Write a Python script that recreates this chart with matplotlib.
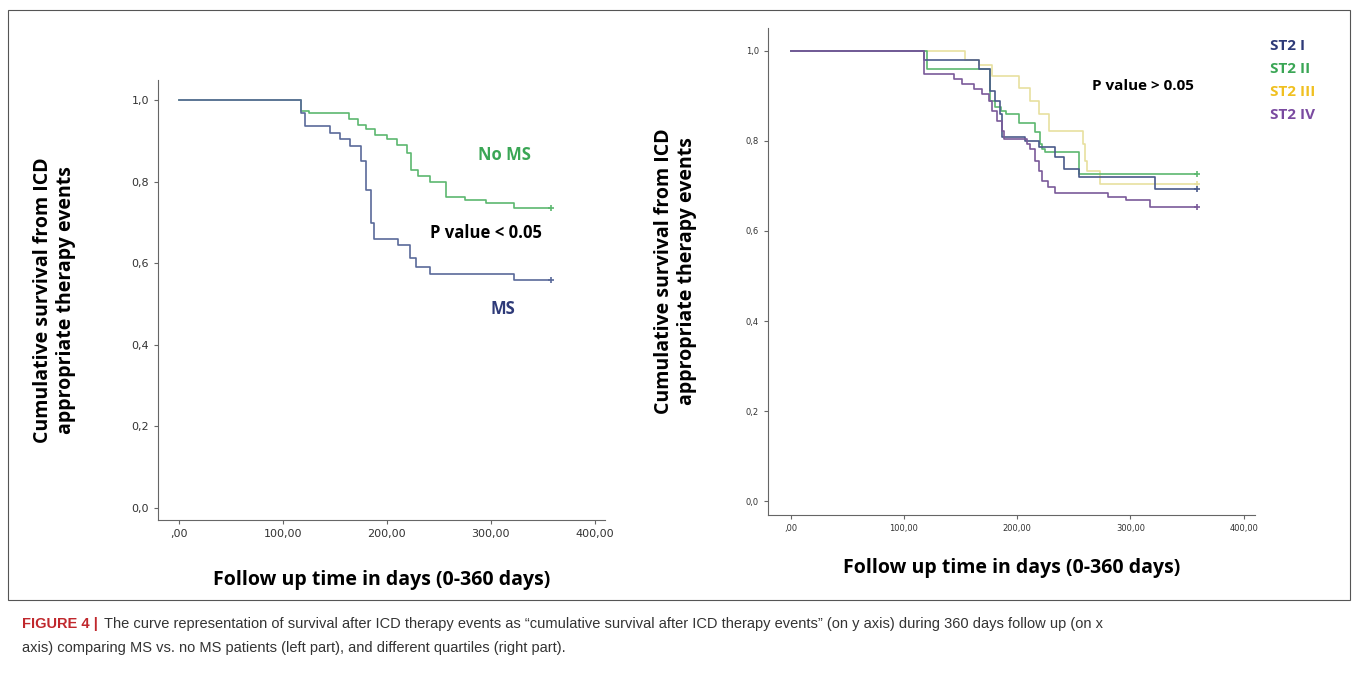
import numpy as np
import matplotlib.pyplot as plt
from matplotlib.patches import Rectangle

# left panel: MS vs no MS (time in days, survival)
nms_t = [0, 118, 125, 164, 172, 180, 189, 200, 210, 220, 223, 230, 242, 257, 275, 296, 322, 358]
nms_s = [1.0, 0.975, 0.97, 0.955, 0.94, 0.93, 0.916, 0.905, 0.89, 0.87, 0.83, 0.815, 0.80, 0.764, 0.755, 0.747, 0.737, 0.737]
ms_t = [0, 118, 121, 145, 155, 165, 175, 180, 185, 188, 211, 222, 228, 242, 322, 358]
ms_s = [1.0, 0.97, 0.936, 0.919, 0.904, 0.887, 0.85, 0.78, 0.70, 0.66, 0.646, 0.612, 0.592, 0.575, 0.56, 0.56]

# right panel: ST2 quartiles
st1_t = [0, 118, 166, 176, 180, 185, 187, 207, 219, 233, 241, 255, 322, 359]
st1_s = [1.0, 0.98, 0.958, 0.91, 0.888, 0.859, 0.808, 0.80, 0.785, 0.764, 0.737, 0.72, 0.694, 0.694]
st2_t = [0, 120, 176, 180, 186, 190, 202, 216, 220, 222, 225, 255, 359]
st2_s = [1.0, 0.958, 0.888, 0.875, 0.866, 0.86, 0.84, 0.82, 0.793, 0.782, 0.775, 0.727, 0.727]
st3_t = [0, 154, 166, 178, 202, 211, 219, 228, 258, 260, 262, 273, 359]
st3_s = [1.0, 0.98, 0.969, 0.943, 0.918, 0.888, 0.859, 0.822, 0.793, 0.756, 0.733, 0.705, 0.705]
st4_t = [0, 118, 144, 151, 162, 169, 175, 178, 182, 187, 188, 209, 211, 216, 219, 222, 227, 233, 280, 296, 317, 359]
st4_s = [1.0, 0.947, 0.936, 0.925, 0.914, 0.903, 0.888, 0.866, 0.844, 0.822, 0.804, 0.793, 0.782, 0.756,
         0.733, 0.71, 0.698, 0.685, 0.676, 0.668, 0.654, 0.654]

navy = '#2e3a78'
green = '#3aa655'
yellow = '#f0c020'
purple = '#7a4aa0'
W, H = 1357, 682

fig = plt.figure(figsize=(13.57, 6.82), dpi=100)
fig.patches.append(Rectangle((8/W, 1-600/H), 1342/W, 590/H, transform=fig.transFigure,
                             fill=False, edgecolor='#555555', linewidth=0.8))


def km(ax, t, s, color, lw=1.2):
    ax.step(t, s, where='post', color=color, linewidth=lw)
    ax.plot(t[-1], s[-1], marker='+', color=color, markersize=5, markeredgewidth=1.2)


def style(ax, fs):
    for sp in ['top', 'right']:
        ax.spines[sp].set_visible(False)
    for sp in ['left', 'bottom']:
        ax.spines[sp].set_color('#666666')
        ax.spines[sp].set_linewidth(0.8)
    ax.set_xlim(-20, 410)
    ax.set_ylim(-0.03, 1.05)
    ax.set_xticks([0, 100, 200, 300, 400])
    ax.set_xticklabels([',00', '100,00', '200,00', '300,00', '400,00'], fontsize=fs)
    ax.set_yticks([0, 0.2, 0.4, 0.6, 0.8, 1.0])
    ax.set_yticklabels(['0,0', '0,2', '0,4', '0,6', '0,8', '1,0'], fontsize=fs)
    ax.tick_params(color='#666666', labelcolor='#333333', length=3)


def ftext(x, y, s, **kw):
    fig.text(x/W, 1-y/H, s, fontweight='bold', family='Open Sans', va='center', **kw)


ylab = 'Cumulative survival from ICD\nappropriate therapy events'
xlab = 'Follow up time in days (0-360 days)'

ax1 = fig.add_axes([158/W, 1-520/H, 447/W, 440/H])
km(ax1, nms_t, nms_s, '#5cb870')
km(ax1, ms_t, ms_s, '#5a6a9a')
style(ax1, 8)
ax1.set_ylabel(ylab, fontsize=14, fontweight='bold', family='Open Sans', labelpad=40)
ax1.set_xlabel(xlab, fontsize=14, fontweight='bold', family='Open Sans', labelpad=22)
ftext(478, 155, 'No MS', color=green, fontsize=12)
ftext(430, 233, 'P value < 0.05', color='black', fontsize=12)
ftext(491, 309, 'MS', color=navy, fontsize=12)

ax2 = fig.add_axes([768/W, 1-515/H, 487/W, 487/H])
km(ax2, st3_t, st3_s, '#e8e0a0')
km(ax2, st2_t, st2_s, '#5cb870')
km(ax2, st1_t, st1_s, '#4a5a8a')
km(ax2, st4_t, st4_s, '#7a5a9a')
style(ax2, 6)
ax2.set_ylabel(ylab, fontsize=14, fontweight='bold', family='Open Sans', labelpad=35)
ax2.set_xlabel(xlab, fontsize=14, fontweight='bold', family='Open Sans', labelpad=18)
ftext(1092, 86, 'P value > 0.05', color='black', fontsize=11)
for i, (lab, c) in enumerate([('ST2 I', navy), ('ST2 II', green), ('ST2 III', yellow), ('ST2 IV', purple)]):
    ftext(1270, 46 + i*23, lab, color=c, fontsize=11)

fig.text(22/W, 1-624/H, 'FIGURE 4 |', fontsize=10.5, fontweight='bold', color='#c0282d',
         family='Liberation Sans', va='center')
fig.text(104/W, 1-624/H,
         'The curve representation of survival after ICD therapy events as \u201ccumulative survival after ICD therapy events\u201d (on y axis) during 360 days follow up (on x',
         fontsize=10.5, color='#333333', family='Liberation Sans', va='center')
fig.text(22/W, 1-648/H,
         'axis) comparing MS vs. no MS patients (left part), and different quartiles (right part).',
         fontsize=10.5, color='#333333', family='Liberation Sans', va='center')

fig.savefig('out.png', dpi=100)
